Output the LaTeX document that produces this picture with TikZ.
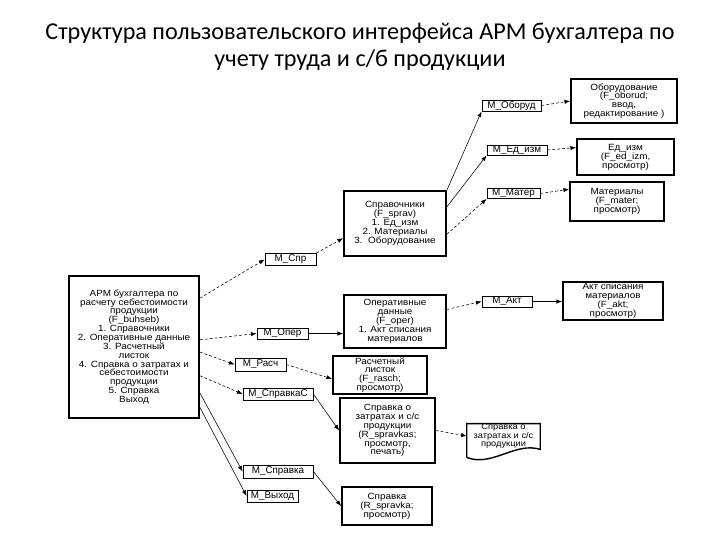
\documentclass[tikz,border=0pt]{standalone}
\usepackage{fontspec}
\setmainfont{Liberation Sans}
\newfontfamily\titlefont{Carlito}
\newfontfamily\boxfamily{Liberation Sans}[FakeStretch=1.1]
\usetikzlibrary{arrows.meta, calc}
\newcommand{\boxfont}{\boxfamily\fontsize{6.4}{6.3}\selectfont\lineskiplimit=-20pt\relax}
\newcommand{\docfont}{\boxfamily\fontsize{6}{5.9}\selectfont\lineskiplimit=-20pt\relax}

\begin{document}
\begin{tikzpicture}[x=0.025cm, y=-0.025cm,
    box/.style 2 args={draw, line width=1.3pt, minimum width=#1*0.025cm,
        minimum height=#2*0.025cm, inner sep=0pt, align=center, font=\boxfont},
    mbox/.style 2 args={draw, line width=0.6pt, minimum width=#1*0.025cm,
        minimum height=#2*0.025cm, inner sep=0pt,
        font=\fontsize{7}{7}\selectfont},
    link/.style={line width=0.4pt, -{Latex[length=4pt, width=3pt]}},
    dlink/.style={link, dash pattern=on 2pt off 1.5pt}]

    % --- 0. Рамка и заголовок ---
    \useasboundingbox[fill=white] (0,0) rectangle (720,540);
    \node[align=center, font=\titlefont\fontsize{17.2}{19.5}\selectfont] (title) at (360,47)
        {Структура пользовательского интерфейса АРМ бухгалтера по\\учету труда и с/б продукции};

    % --- 1. Главное окно ---
    \node[box={130}{142}] (main) at (134,347)
        {АРМ бухгалтера по\\расчету себестоимости\\продукции\\(F\_buhseb)\\1. Справочники\\
         2. Оперативные данные\\3. Расчетный\\листок\\4. Справка о затратах и\\
         себестоимости\\продукции\\5. Справка\\Выход};

    % --- 2. Пункты меню ---
    \node[mbox={51}{12}] (mSpr)   at (290.5,259.5) {M\_Спр};
    \node[mbox={51}{11}] (mOper)  at (282.5,333.5) {M\_Опер};
    \node[mbox={51}{13}] (mRasch) at (260.5,364.5) {M\_Расч};
    \node[mbox={70}{12}] (mSprC)  at (278,394)     {M\_СправкаС};
    \node[mbox={70}{13}] (mSprk)  at (278,471.5)   {M\_Справка};
    \node[mbox={51}{12}] (mVyh)   at (272.5,496)   {M\_Выход};

    % --- 3. Окна второго уровня ---
    \node[box={102}{65}] (sprav) at (395,223.5)
        {Справочники\\(F\_sprav)\\1. Ед\_изм\\2. Материалы\\3.\ \ Оборудование};
    \node[box={102}{53}] (oper) at (395,321.5)
        {Оперативные\\данные\\(F\_oper)\\1. Акт списания\\материалов};
    \node[box={94}{38}] (rasch) at (380,375)
        {Расчетный\\листок\\(F\_rasch;\\просмотр)};
    \node[box={95}{65}] (zatr) at (387.5,430.5)
        {Справка о\\затратах и с/с\\продукции\\(R\_spravkas;\\просмотр,\\печать)};
    \node[box={90}{38}] (sprk) at (387,506)
        {Справка\\(R\_spravka;\\просмотр)};

    % --- 4. Справочники: меню и окна ---
    \node[mbox={59}{11}] (mOborud) at (511.5,105.5) {M\_Оборуд};
    \node[mbox={60}{10}] (mEdizm)  at (517,150)     {M\_Ед\_изм};
    \node[mbox={53}{10}] (mMater)  at (513.5,193.5) {M\_Матер};
    \node[box={106}{44}] (oborud) at (624,101)
        {Оборудование\\(F\_oborud;\\ввод,\\редактирование )};
    \node[box={97}{36}] (edizm) at (625.5,157)
        {Ед\_изм\\(F\_ed\_izm,\\просмотр)};
    \node[box={94}{39}] (mater) at (617,201.5)
        {Материалы\\(F\_mater;\\просмотр)};

    % --- 5. Акт списания ---
    \node[mbox={50}{11}] (mAkt) at (507,301.5) {M\_Акт};
    \node[box={100}{38}] (akt) at (613,301)
        {Акт списания\\материалов\\(F\_akt;\\просмотр)};

    % --- 6. Документ ---
    \node[inner sep=0pt, minimum width=73*0.025cm, minimum height=22*0.025cm, align=center,
        font=\docfont] (doc) at (503.5,436)
        {Справка о\\затратах и с/с\\продукции};
    \draw[line width=1pt] ($(doc.south west)+(0,9)$) -- (doc.north west) -- (doc.north east)
        -- ($(doc.south east)+(0,1)$) .. controls +(-25,-8) and +(25,10) .. ($(doc.south west)+(0,9)$);

    % --- 7. Связи ---
    \draw[dlink] ($(main.north east)!0.16!(main.south east)$) -- (mSpr.west);
    \draw[dlink] ($(main.north east)!0.45!(main.south east)$) -- (mOper.west);
    \draw[dlink] ($(main.north east)!0.535!(main.south east)$) -- (mRasch.west);
    \draw[dlink] ($(main.north east)!0.70!(main.south east)$) -- (mSprC.west);
    \draw[link] ($(main.north east)!0.82!(main.south east)$) -- (mSprk.west);
    \draw[link] ($(main.north east)!0.92!(main.south east)$) -- (mVyh.west);

    \draw[dlink] (mSpr.north east) -- ($(sprav.north west)!0.72!(sprav.south west)$);
    \draw[link] (mOper.east) -- (mOper.east -| oper.west);
    \draw[dlink] (mRasch.east) -- ($(rasch.north west)!0.6!(rasch.south west)$);
    \draw[link] (mSprC.east) -- (zatr.west);
    \draw[link] (mSprk.east) -- (sprk.west);
    \draw[dlink] (zatr.east) -- (doc.west);

    \draw[link] (sprav.north east) -- (mOborud.south west);
    \draw[link] ($(sprav.north east)!0.25!(sprav.south east)$) -- (mEdizm.south west);
    \draw[dlink] ($(sprav.north east)!0.66!(sprav.south east)$) -- (mMater.south west);
    \draw[dlink] (mOborud.east) -- (oborud.west);
    \draw[dlink] (mEdizm.east) -- ($(edizm.north west)!0.25!(edizm.south west)$);
    \draw[dlink] (mMater.east) -- ($(mater.north west)!0.2!(mater.south west)$);

    \draw[dlink] ($(oper.north east)!0.28!(oper.south east)$) -- (mAkt.west);
    \draw[link] (mAkt.east) -- (mAkt.east -| akt.west);

\end{tikzpicture}
\end{document}
